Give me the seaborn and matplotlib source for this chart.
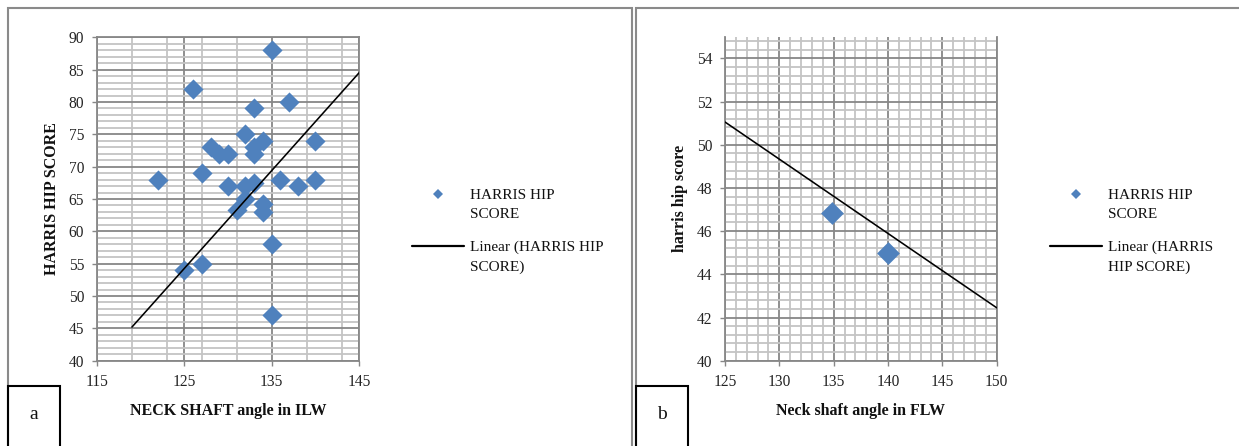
import numpy as np
import matplotlib
matplotlib.use("Agg")
import matplotlib.pyplot as plt
from matplotlib.lines import Line2D
from matplotlib.patches import Rectangle
import seaborn as sns

# Neck shaft angle (ILW) vs Harris hip score
ilw_angle = [122, 126, 125, 127, 127, 128, 129, 130, 130, 132, 133, 133, 133, 134,
             132, 133, 132, 131, 134, 134, 135, 135, 135, 136, 137, 138, 140, 140]
ilw_hhs = [68, 82, 54, 55, 69, 73, 72, 72, 67, 75, 79, 73, 72, 74,
           67, 67.5, 65, 63.3, 64.2, 63, 88, 58, 47, 68, 80, 67, 74, 68]
ilw_trend_x = [119, 145]
ilw_trend_y = [45.2, 84.5]

# Neck shaft angle (FLW) vs Harris hip score
flw_angle = [134.8, 140]
flw_hhs = [46.85, 45.0]
flw_trend_x = [125, 150]
flw_trend_y = [51.05, 42.45]

x_ticks_a = [115, 125, 135, 145]
y_ticks_a = [40, 45, 50, 55, 60, 65, 70, 75, 80, 85, 90]
x_ticks_b = [125, 130, 135, 140, 145, 150]
y_ticks_b = [40, 42, 44, 46, 48, 50, 52, 54]

series_label = "HARRIS HIP SCORE"
legend_a = ["HARRIS HIP\nSCORE", "Linear (HARRIS HIP\nSCORE)"]
legend_b = ["HARRIS HIP\nSCORE", "Linear (HARRIS\nHIP SCORE)"]

sns.set_theme(style="white")
plt.rcParams["font.family"] = ["Liberation Serif", "DejaVu Serif"]

W, H = 1239, 446
fig = plt.figure(figsize=(W / 100, H / 100), dpi=100)
fig.patch.set_facecolor("white")

BLUE = "#4F81BD"
MAJOR = "#878787"
MINOR = "#c4c4c4"
TICK_FS = 11.2
LAB_FS = 11.5
LEG_FS = 11


def px_rect(l, t, r, b):
    return [l / W, 1 - b / H, (r - l) / W, (b - t) / H]


def style_axes(ax, xlim, ylim, xt, yt, xminor, yminor, show_top):
    ax.set_xlim(*xlim)
    ax.set_ylim(*ylim)
    ax.set_xticks(xt)
    ax.set_yticks(yt)
    ax.set_xticks(xminor, minor=True)
    ax.set_yticks(yminor, minor=True)
    ax.set_axisbelow(True)
    ax.grid(which="minor", color=MINOR, linewidth=1.3)
    ax.grid(which="major", color=MAJOR, linewidth=1.3)
    ax.tick_params(which="minor", length=0)
    ax.tick_params(which="major", length=3.6, width=1.0, color=MAJOR,
                   labelsize=TICK_FS, labelcolor="#222222", direction="out")
    ax.tick_params(axis="x", which="major", bottom=True, pad=6.0)
    ax.tick_params(axis="y", which="major", left=True, pad=5.5)
    for side, sp in ax.spines.items():
        sp.set_color(MAJOR)
        sp.set_linewidth(1.3)
    ax.spines["top"].set_visible(show_top)


def add_legend(ax, labels, left_px, top_px):
    handles = [
        Line2D([], [], linestyle="none", marker="D", markersize=5.0,
               markerfacecolor=BLUE, markeredgewidth=0),
        Line2D([], [], color="black", linewidth=1.6),
    ]
    leg = fig.legend(handles, labels, loc="upper left",
                     bbox_to_anchor=(left_px / W, 1 - top_px / H),
                     frameon=False, fontsize=LEG_FS, borderpad=0,
                     borderaxespad=0, handlelength=3.38, handletextpad=0.4,
                     labelspacing=1.25, handleheight=0.7)
    for t in leg.get_texts():
        t.set_linespacing(1.65)
        t.set_color("#111111")
    for col in leg._legend_handle_box.get_children():
        for row in col.get_children():
            row.align = "top"
    return leg


# ---- panel a ----
ax_a = fig.add_axes(px_rect(97, 37.3, 359, 360.7))
sns.scatterplot(x=ilw_angle, y=ilw_hhs, marker="D", s=105, color=BLUE,
                linewidth=0, ax=ax_a, zorder=3, label=series_label, legend=False)
sns.lineplot(x=ilw_trend_x, y=ilw_trend_y, color="black", linewidth=1.15,
             ax=ax_a, zorder=4, legend=False)
style_axes(ax_a, (115, 145), (40, 90), x_ticks_a, y_ticks_a,
           np.arange(115, 146, 4), np.arange(40, 91, 1), True)
ax_a.set_xlabel("NECK SHAFT angle in ILW", fontsize=LAB_FS, fontweight="bold",
                labelpad=9, color="#111111")
ax_a.set_ylabel("HARRIS HIP SCORE", fontsize=LAB_FS, fontweight="bold",
                labelpad=6, color="#111111")
add_legend(ax_a, legend_a, 412, 189)

# ---- panel b ----
ax_b = fig.add_axes(px_rect(725, 36.7, 996.7, 360.7))
sns.scatterplot(x=flw_angle, y=flw_hhs, marker="D", s=135, color=BLUE,
                linewidth=0, ax=ax_b, zorder=3, label=series_label, legend=False)
sns.lineplot(x=flw_trend_x, y=flw_trend_y, color="black", linewidth=1.15,
             ax=ax_b, zorder=4, legend=False)
style_axes(ax_b, (125, 150), (40, 55), x_ticks_b, y_ticks_b,
           np.arange(125, 151, 1), np.arange(40, 55.01, 0.4), False)
ax_b.set_xlabel("Neck shaft angle in FLW", fontsize=LAB_FS, fontweight="bold",
                labelpad=9, color="#111111")
ax_b.set_ylabel("harris hip score", fontsize=LAB_FS, fontweight="bold",
                labelpad=6, color="#111111")
add_legend(ax_b, legend_b, 1050, 189)

# ---- panel frames and letter boxes ----
def fig_rect(l, t, r, b, **kw):
    fig.patches.append(Rectangle((l / W, 1 - b / H), (r - l) / W, (b - t) / H,
                                 transform=fig.transFigure, fill=False,
                                 clip_on=False, **kw))

fig_rect(7.5, 7.5, 631.5, 470, edgecolor="#8a8a8a", linewidth=1.5)
fig_rect(635.5, 7.5, 1260, 470, edgecolor="#8a8a8a", linewidth=1.5)
fig_rect(7.5, 386, 60, 470, edgecolor="black", linewidth=1.5)
fig_rect(635.5, 386, 688, 470, edgecolor="black", linewidth=1.5)
fig.text(33.8 / W, 1 - 419 / H, "a", fontsize=14, ha="center", va="baseline",
         color="#111111")
fig.text(661.8 / W, 1 - 419 / H, "b", fontsize=14, ha="center", va="baseline",
         color="#111111")

fig.savefig("out.png", dpi=100, facecolor="white")
